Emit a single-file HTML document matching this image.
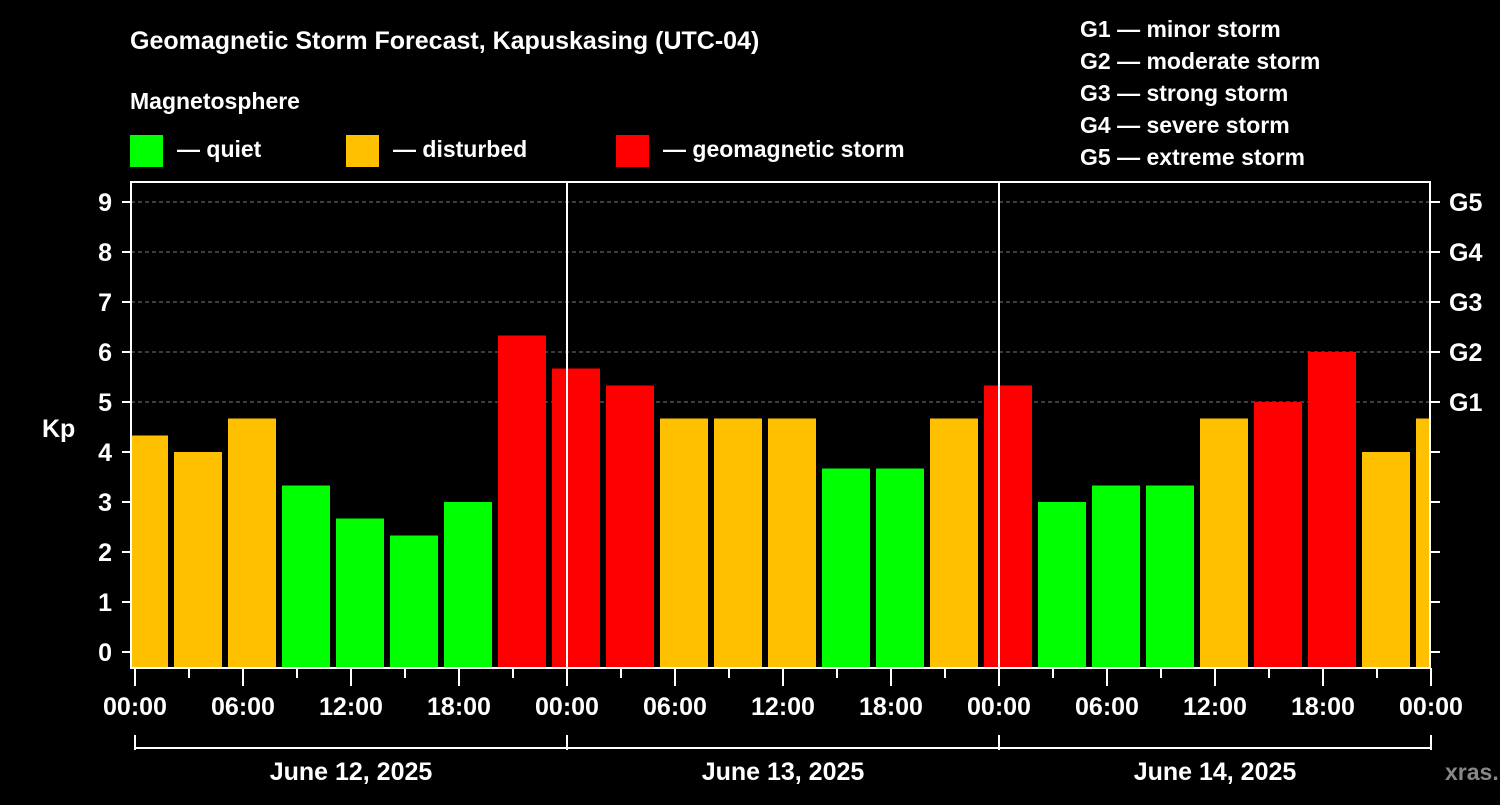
<!DOCTYPE html>
<html><head><meta charset="utf-8"><style>
body{margin:0;background:#000;width:1500px;height:800px;overflow:hidden}
svg text{font-family:"Liberation Sans",Arial,sans-serif;font-weight:bold;fill:#fff}
</style></head><body>
<svg id="c" width="1500" height="800" xmlns="http://www.w3.org/2000/svg">
<text x="130" y="49" font-size="25">Geomagnetic Storm Forecast, Kapuskasing (UTC-04)</text>
<text x="130" y="109" font-size="23">Magnetosphere</text>
<g>
<rect x="130" y="135" width="33" height="32" fill="#00ff00"/>
<text x="177" y="157" font-size="23">— quiet</text>
<rect x="346" y="135" width="33" height="32" fill="#ffc000"/>
<text x="393" y="157" font-size="23">— disturbed</text>
<rect x="616" y="135" width="33" height="32" fill="#ff0000"/>
<text x="663" y="157" font-size="23">— geomagnetic storm</text>
</g>
<g font-size="23">
<text x="1080" y="37">G1 — minor storm</text>
<text x="1080" y="69">G2 — moderate storm</text>
<text x="1080" y="101">G3 — strong storm</text>
<text x="1080" y="133">G4 — severe storm</text>
<text x="1080" y="165">G5 — extreme storm</text>
</g>
<text x="42" y="437" font-size="25">Kp</text>
<text x="1445" y="780" font-size="23" style="fill:#888">xras.ru</text>
<defs><clipPath id="pc"><rect x="131" y="182" width="1299" height="486"/></clipPath></defs>
<g id="grid"></g><g id="bars" clip-path="url(#pc)"></g><g id="axes"></g>
</svg>
<script>
const kpValues=[4.33,4.0,4.67,3.33,2.67,2.33,3.0,6.33,5.67,5.33,4.67,4.67,4.67,3.67,3.67,4.67,5.33,3.0,3.33,3.33,4.67,5.0,6.0,4.0,4.67];
const yTicks=[0,1,2,3,4,5,6,7,8,9];
const gLabels=["G1","G2","G3","G4","G5"];
const xTickLabels=["00:00","06:00","12:00","18:00","00:00","06:00","12:00","18:00","00:00","06:00","12:00","18:00","00:00"];
const dayLabels=["June 12, 2025","June 13, 2025","June 14, 2025"];
const NS="http://www.w3.org/2000/svg";
const y=v=>652-50*v;
const x=h=>135+18*h;
function mk(tag,attrs,parent,txt){const e=document.createElementNS(NS,tag);for(const k in attrs)e.setAttribute(k,attrs[k]);if(txt!==undefined)e.textContent=txt;parent.appendChild(e);return e;}
const G=document.getElementById('grid'),B=document.getElementById('bars'),A=document.getElementById('axes');
yTicks.filter(v=>v>=5).forEach(v=>{
 const l=mk('line',{x1:131,x2:1430,y1:y(v),y2:y(v),stroke:'#777','stroke-dasharray':'4,3'},G);
 
 
});
kpValues.forEach((v,i)=>{
 const c=x(3*i+0.5);
 const col=v>=5?'#ff0000':(v>=4?'#ffc000':'#00ff00');
 const r=mk('rect',{x:c-24,y:y(v),width:48,height:668-y(v),fill:col},B);
 
 
});
mk('rect',{x:131,y:182,width:1299,height:486,fill:'none',stroke:'#fff','stroke-width':2},A);
[1,2].forEach(d=>{const l=mk('line',{x1:x(24*d),x2:x(24*d),y1:182,y2:668,stroke:'#fff','stroke-width':2},A);
 
 });
yTicks.forEach(v=>{
 mk('line',{x1:122,x2:131,y1:y(v),y2:y(v),stroke:'#fff','stroke-width':2},A);
 mk('line',{x1:1430,x2:1440,y1:y(v),y2:y(v),stroke:'#fff','stroke-width':2},A);
 const t=mk('text',{x:112,y:y(v)+9,'font-size':25,'text-anchor':'end'},A,String(v));
 
 
});
gLabels.forEach((g,i)=>{const t=mk('text',{x:1449,y:y(5+i)+9,'font-size':25},A,g);
 
 });
for(let h=0;h<=72;h+=3){const major=h%6===0;
 mk('line',{x1:x(h),x2:x(h),y1:668,y2:major?686:678,stroke:'#fff','stroke-width':2},A);}
xTickLabels.forEach((s,i)=>{const t=mk('text',{x:x(6*i),y:715,'font-size':25,'text-anchor':'middle'},A,s);
 
 });
mk('line',{x1:x(0),x2:x(72),y1:748,y2:748,stroke:'#fff','stroke-width':2},A);
[0,24,48,72].forEach(h=>mk('line',{x1:x(h),x2:x(h),y1:735,y2:750,stroke:'#fff','stroke-width':2},A));
dayLabels.forEach((s,i)=>{const t=mk('text',{x:x(24*i+12),y:780,'font-size':25,'text-anchor':'middle'},A,s);
 
 });
</script>
</body></html>
